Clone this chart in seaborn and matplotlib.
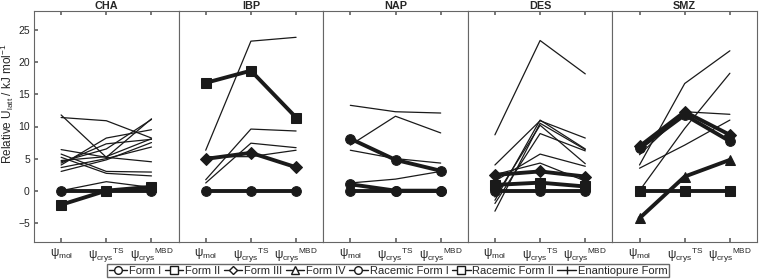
import matplotlib
matplotlib.use("Agg")
import matplotlib.pyplot as plt
from matplotlib.lines import Line2D
import seaborn as sns

sns.set_theme(style="white")
plt.rcParams['font.family'] = ['Liberation Sans', 'DejaVu Sans']
plt.rcParams['mathtext.fontset'] = 'custom'
plt.rcParams['mathtext.rm'] = 'Liberation Sans'
plt.rcParams['mathtext.it'] = 'Liberation Sans:italic'

panels = ["CHA", "IBP", "NAP", "DES", "SMZ"]
tick_labels = ["ψ$_{\\mathrm{mol}}$",
               "ψ$_{\\mathrm{crys}}$$^{\\mathrm{TS}}$",
               "ψ$_{\\mathrm{crys}}$$^{\\mathrm{MBD}}$"]

# thin lines (other structures), values in kJ/mol
cha_thin = [[11.8, 5.2, 11.2], [11.4, 10.9, 8.2], [6.4, 5.2, 4.5], [5.7, 3.0, 2.9],
            [5.2, 2.7, 2.3], [4.7, 5.3, 8.1], [4.3, 7.3, 8.0], [4.0, 8.2, 9.5],
            [3.6, 5.0, 6.8], [3.0, 4.8, 7.5], [4.5, 6.5, 11.1], [0.0, 1.4, 0.5]]
ibp_thin = [[6.3, 23.3, 23.9], [1.7, 9.6, 9.3], [1.2, 7.4, 6.7], [5.3, 5.3, 6.3]]
nap_thin = [[13.3, 12.3, 12.1], [7.1, 11.6, 9.0], [6.3, 5.0, 4.3], [1.2, 1.8, 3.0]]
des_thin = [[8.7, 23.4, 18.2], [4.0, 10.9, 8.2], [-3.2, 10.5, 6.4], [-2.0, 8.9, 6.2],
            [-1.0, 10.2, 4.2], [1.5, 5.7, 3.8], [2.5, 4.3, 1.5], [-1.5, 11.0, 6.5]]
smz_thin = [[4.0, 16.7, 21.8], [3.5, 7.1, 11.0], [5.6, 12.3, 11.9], [0.0, 9.7, 18.3]]

# thick lines (named forms): (form, values)
cha_forms = [("Form I", [0.0, 0.0, 0.0]), ("Form II", [-2.2, 0.0, 0.6])]
ibp_forms = [("Form I", [0.0, 0.0, 0.0]), ("Form II", [16.8, 18.7, 11.4]),
             ("Form III", [4.95, 5.9, 3.65])]
nap_forms = [("Form I", [0.0, 0.0, 0.0]), ("Racemic Form I", [1.0, 0.0, 0.0]),
             ("Form I", [8.1, 4.8, 3.1])]
des_forms = [("Form I", [0.0, 0.0, 0.0]), ("Form II", [0.9, 1.25, 0.65]),
             ("Form III", [2.45, 3.0, 2.2])]
smz_forms = [("Form II", [0.0, 0.0, 0.0]), ("Form I", [6.6, 11.8, 7.7]),
             ("Form III", [6.9, 12.3, 8.7]), ("Form IV", [-4.3, 2.2, 4.8])]

thin_all = [cha_thin, ibp_thin, nap_thin, des_thin, smz_thin]
forms_all = [cha_forms, ibp_forms, nap_forms, des_forms, smz_forms]

legend_names = ["Form I", "Form II", "Form III", "Form IV", "Racemic Form I",
                "Racemic Form II", "Enantiopure Form"]
legend_markers = ["o", "s", "D", "^", "o", "s", "|"]
marker_of = dict(zip(legend_names, legend_markers))

W, H = 759, 279
fig = plt.figure(figsize=(W / 100, H / 100), dpi=100)
left, right, top, bottom = 34, 757, 11, 242
pw = (right - left) / 5
axes = []
for i in range(5):
    ax = fig.add_axes([(left + i * pw) / W, 1 - bottom / H, pw / W, (bottom - top) / H],
                      sharey=axes[0] if axes else None)
    axes.append(ax)

xs = [1, 2, 3]
for i, ax in enumerate(axes):
    for vals in thin_all[i]:
        sns.lineplot(x=xs, y=vals, ax=ax, color="k", lw=0.9, legend=False)
    for name, vals in forms_all[i]:
        m = marker_of[name]
        ms = 7 if m != "D" else 6
        sns.lineplot(x=xs, y=vals, ax=ax, color="k", lw=2.8, marker=m, markersize=ms,
                     markerfacecolor="k", markeredgecolor="k", legend=False)
    ax.set_xlim(0.4, 3.6)
    ax.set_ylim(-8, 28)
    ax.set_xticks(xs)
    ax.set_xticklabels(tick_labels, fontsize=8.5)
    ax.set_title(panels[i], fontsize=7.8, fontweight="bold", pad=1.5)
    ax.tick_params(axis="x", direction="in", length=3, top=True, bottom=True, pad=3,
                   color="#666666")
    ax.tick_params(axis="y", direction="in", length=3, left=(i == 0), right=False,
                   labelleft=(i == 0), labelsize=7.5, color="#666666", pad=3)
    ax.set_yticks([-5, 0, 5, 10, 15, 20, 25])
    for s in ax.spines.values():
        s.set_color("#666666")
        s.set_linewidth(0.8)
    ax.set_xlabel("")
    ax.set_ylabel("")

axes[0].set_ylabel(r"Relative U$_{\mathrm{latt}}$ / kJ mol$^{-1}$", fontsize=8.5)
axes[0].yaxis.set_label_coords(-0.125, 0.6)

handles = [Line2D([], [], color="k", lw=1, marker=m, markersize=5.5 if m != "D" else 4.5,
                  markerfacecolor="white", markeredgecolor="k", markeredgewidth=1)
           for m in legend_markers]
fig.legend(handles, legend_names, loc="center", bbox_to_anchor=(388 / W, 1 - 270.5 / H),
           ncol=7, fontsize=8, frameon=True, fancybox=False, edgecolor="#444444",
           handlelength=1.7, handletextpad=0.15, columnspacing=0.3, borderpad=0.15,
           borderaxespad=0)

fig.savefig("out.png", dpi=100)
